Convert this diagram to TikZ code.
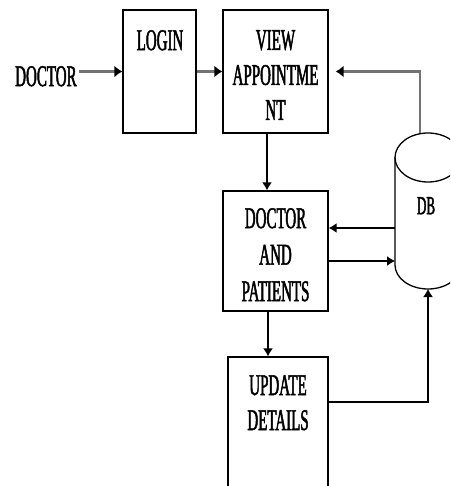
\documentclass[tikz,border=0pt]{standalone}
\usepackage{fontspec}
\setmainfont[FakeStretch=0.5,FakeBold=1.6]{Liberation Serif}
\usetikzlibrary{arrows.meta}
\begin{document}
\begin{tikzpicture}[x=1pt,y=-1pt,
  box/.style={draw=black,line width=1.3pt,inner sep=0pt},
  lbl/.style={inner sep=0pt,align=center,font=\fontsize{30}{35}\selectfont},
  thick arrow/.style={draw=black!55,line width=2.6pt,-{Latex[length=8pt,width=12pt,color=black]}},
  thin arrow/.style={draw=black,line width=1.3pt,-{Latex[length=8pt,width=10pt]}},
  thin line/.style={draw=black,line width=1.3pt}]
\useasboundingbox (0,0) rectangle (450,486);
\clip (0,0) rectangle (450,486);
% boxes
\node[box,minimum width=73pt,minimum height=123pt] (login) at (159.5,71.5) {};
\node[box,minimum width=105pt,minimum height=123pt] (view) at (275.5,71.5) {};
\node[box,minimum width=105pt,minimum height=120pt] (da) at (275.5,251) {};
\node[box,minimum width=100pt,minimum height=160pt] (upd) at (278,437) {};
% texts
\node[lbl,anchor=north] (logint) at (160,30) {LOGIN};
\node[lbl,anchor=north] (viewt) at (275.5,30) {VIEW\\APPOINTME\\NT};
\node[lbl,anchor=north,font=\fontsize{30}{36.5}\selectfont] (dat) at (275.5,208) {DOCTOR\\AND\\PATIENTS};
\node[lbl,anchor=north] (updt) at (278,375) {UPDATE\\DETAILS};
\node[lbl,anchor=north west] (doc) at (15,66) {DOCTOR};
\node[lbl,anchor=north,font=\fontsize{26}{30}\selectfont] (db) at (426,197) {DB};
% cylinder
\coordinate (dbtop) at (420,133);
\coordinate (dbbot) at (428,289);
\draw[thin line] (428,157.5) ellipse [x radius=33pt,y radius=24.5pt];
\draw[thin line] (395,157.5) -- (395,265) arc [start angle=180,end angle=360,x radius=33pt,y radius=24pt] -- (461,157.5);
% connectors
\draw[thick arrow] (doc.east) ++(2,0) coordinate (docs) (docs |- login.west) -- (login.west);
\draw[thick arrow] (login.east) -- (view.west);
\coordinate (viewin) at ([xshift=7pt]view.east);
\draw[thick arrow] (dbtop) |- (viewin);
\draw[thin arrow] (267,133) coordinate (v1) -- (v1 |- da.north);
\draw[thin arrow] (395,228) coordinate (d1) -- (d1 -| da.east);
\draw[thin arrow] (da.east |- 0,261) coordinate (d2) -- (395,261);
\draw[thin arrow] (268,311) coordinate (d3) -- (d3 |- upd.north);
\draw[thin arrow] (upd.east |- 0,402) coordinate (u1) -| (dbbot);
\end{tikzpicture}
\end{document}
